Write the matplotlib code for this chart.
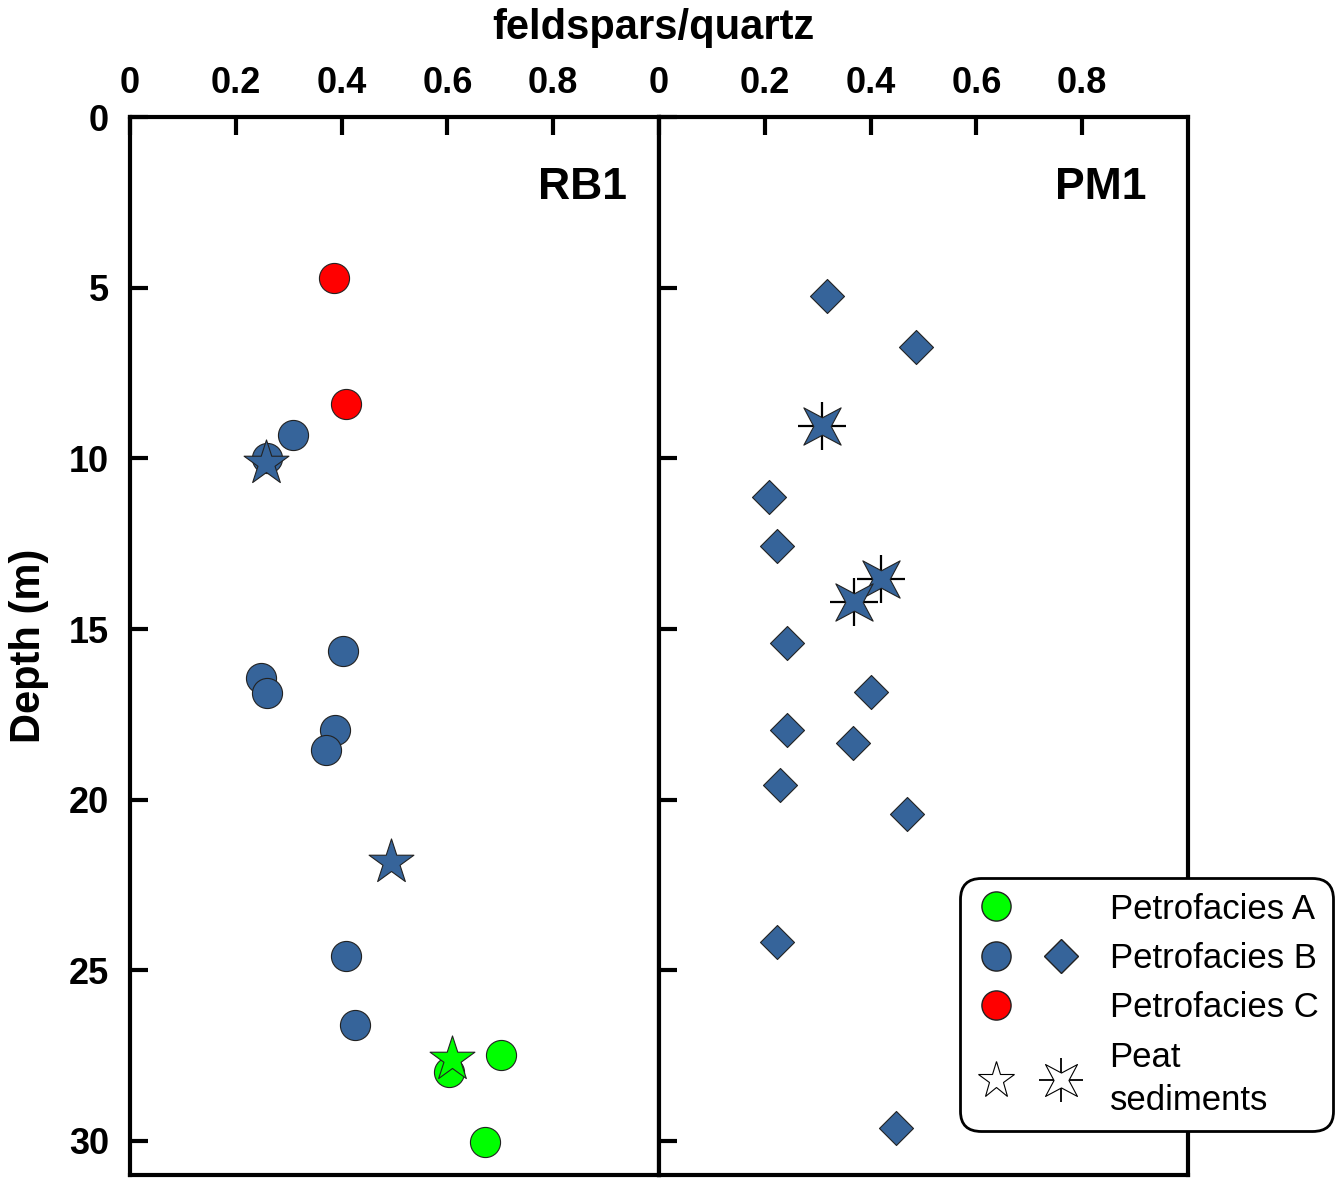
import matplotlib.pyplot as plt
from matplotlib.path import Path
from matplotlib.lines import Line2D
from matplotlib.legend_handler import HandlerTuple
import numpy as np

plt.rcParams['font.family'] = ['Liberation Sans', 'DejaVu Sans']

# RB1 core
rb1_a_x = [0.702, 0.604, 0.672]
rb1_a_d = [27.47, 27.97, 30.03]
rb1_a_peat_x = [0.609]
rb1_a_peat_d = [27.59]
rb1_b_x = [0.308, 0.260, 0.402, 0.247, 0.260, 0.387, 0.370, 0.408, 0.426]
rb1_b_d = [9.32, 10.00, 15.65, 16.44, 16.88, 17.97, 18.53, 24.59, 26.59]
rb1_b_peat_x = [0.257, 0.494]
rb1_b_peat_d = [10.12, 21.82]
rb1_c_x = [0.385, 0.408]
rb1_c_d = [4.71, 8.41]

# PM1 core
pm1_b_x = [0.317, 0.485, 0.208, 0.223, 0.242, 0.400, 0.242, 0.366, 0.228, 0.468, 0.223, 0.449]
pm1_b_d = [5.24, 6.74, 11.12, 12.56, 15.41, 16.85, 17.97, 18.35, 19.56, 20.41, 24.18, 29.62]
pm1_b_peat_x = [0.309, 0.420, 0.368]
pm1_b_peat_d = [9.06, 13.53, 14.21]

xticks = [0, 0.2, 0.4, 0.6, 0.8]
xtick_labels = ['0', '0.2', '0.4', '0.6', '0.8']
yticks = [0, 5, 10, 15, 20, 25, 30]

green = '#00ff00'
blue = '#36649a'
red = '#ff0000'

# 4-point star rotated so points go to the corners
ang = np.deg2rad(np.arange(8) * 45 + 45)
rad = np.where(np.arange(8) % 2 == 0, 1.0, 0.33)
verts = np.column_stack([rad * np.cos(ang), rad * np.sin(ang)])
verts = np.vstack([verts, verts[:1]])
star4 = Path(verts, [Path.MOVETO] + [Path.LINETO] * 7 + [Path.CLOSEPOLY])

fig = plt.figure(figsize=(13.41, 11.78), dpi=100)
ax1 = fig.add_axes([0.0969, 0.0025, 0.3945, 0.898])
ax2 = fig.add_axes([0.4914, 0.0025, 0.3945, 0.898])

ec = '#222222'
ax1.scatter(rb1_c_x, rb1_c_d, s=470, c=red, edgecolors=ec, linewidths=0.8, zorder=3)
ax1.scatter(rb1_b_x, rb1_b_d, s=470, c=blue, edgecolors=ec, linewidths=0.8, zorder=3)
ax1.scatter(rb1_a_x, rb1_a_d, s=470, c=green, edgecolors=ec, linewidths=0.8, zorder=3)
ax1.scatter(rb1_b_peat_x, rb1_b_peat_d, s=1150, marker='*', c=blue, edgecolors=ec, linewidths=0.8, zorder=4)
ax1.scatter(rb1_a_peat_x, rb1_a_peat_d, s=1150, marker='*', c=green, edgecolors=ec, linewidths=0.8, zorder=4)

ax2.scatter(pm1_b_x, pm1_b_d, s=300, marker='D', c=blue, edgecolors=ec, linewidths=0.8, zorder=3)
ax2.scatter(pm1_b_peat_x, pm1_b_peat_d, s=1150, marker='+', c='black', linewidths=1.6, zorder=3)
ax2.scatter(pm1_b_peat_x, pm1_b_peat_d, s=720, marker=star4, c=blue, edgecolors=ec, linewidths=0.8, zorder=4)

for ax, name, nx in [(ax1, 'RB1', 0.94), (ax2, 'PM1', 0.922)]:
    ax.set_xlim(0, 1)
    ax.set_ylim(31, 0)
    ax.set_xticks(xticks)
    ax.set_xticklabels(xtick_labels)
    ax.set_yticks(yticks)
    ax.xaxis.tick_top()
    ax.tick_params(axis='both', direction='in', length=13, width=3, labelsize=26, pad=12)
    ax.tick_params(axis='y', right=False, pad=15)
    for lab in ax.get_xticklabels() + ax.get_yticklabels():
        lab.set_fontweight('bold')
    for sp in ax.spines.values():
        sp.set_linewidth(3)
    ax.text(nx, 0.934, name, transform=ax.transAxes, ha='right', va='center',
            fontsize=32, fontweight='bold')

ax2.tick_params(axis='y', labelleft=False)
ax1.set_ylabel('Depth (m)', fontsize=30, fontweight='bold', labelpad=14)
fig.text(0.487, 0.976, 'feldspars/quartz', ha='center', va='center', fontsize=30, fontweight='bold')

# legend
blank = Line2D([], [], linestyle='none', marker=None)
h_a = Line2D([], [], linestyle='none', marker='o', markersize=21, markerfacecolor=green, markeredgecolor=ec)
h_b = Line2D([], [], linestyle='none', marker='o', markersize=21, markerfacecolor=blue, markeredgecolor=ec)
h_bd = Line2D([], [], linestyle='none', marker='D', markersize=17, markerfacecolor=blue, markeredgecolor=ec)
h_c = Line2D([], [], linestyle='none', marker='o', markersize=21, markerfacecolor=red, markeredgecolor=ec)
h_ps = Line2D([], [], linestyle='none', marker='*', markersize=28, markerfacecolor='white', markeredgecolor='black', markeredgewidth=0.8)
h_p4 = (Line2D([], [], linestyle='none', marker='+', markersize=31, markeredgecolor='black', markeredgewidth=1.3),
        Line2D([], [], linestyle='none', marker=star4, markersize=23, markerfacecolor='white', markeredgecolor='black', markeredgewidth=0.8))
leg = fig.legend([(h_a, blank), (h_b, h_bd), (h_c, blank), (h_ps, h_p4)],
                 ['Petrofacies A', 'Petrofacies B', 'Petrofacies C', 'Peat\nsediments'],
                 handler_map={tuple: HandlerTuple(ndivide=2, pad=0.66),
                              h_p4: HandlerTuple(ndivide=1, pad=0)},
                 loc='upper right', bbox_to_anchor=(0.994, 0.2547), borderaxespad=0,
                 fontsize=25, handlelength=3.08, handletextpad=0.8, labelspacing=0.47,
                 borderpad=0.42, fancybox=True, framealpha=1, edgecolor='black')
for t in leg.get_texts():
    t.set_linespacing(1.4)
leg.get_frame().set_linewidth(2)
leg.get_frame().set_boxstyle('round', pad=0, rounding_size=0.6)

fig.savefig('out.png', dpi=100)
